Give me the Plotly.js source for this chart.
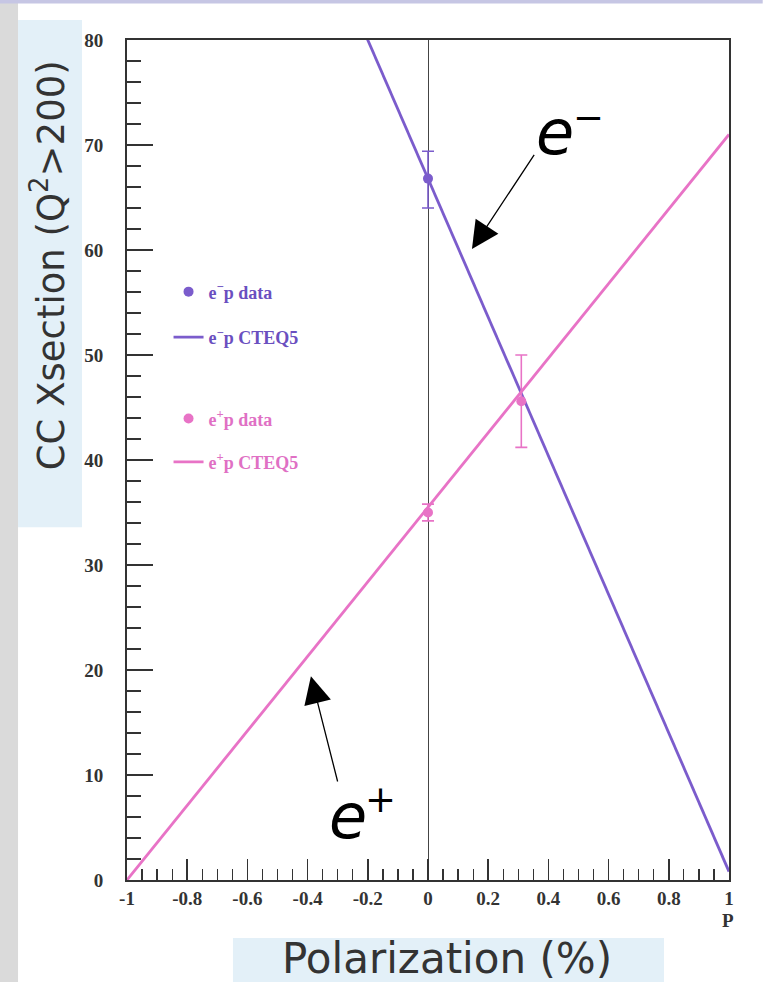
<!DOCTYPE html>
<html>
<head>
<meta charset="utf-8">
<script src="https://cdn.plot.ly/plotly-3.0.1.min.js"></script>
<style>
  html, body { margin: 0; padding: 0; background: #ffffff; }
  #chart { width: 763px; height: 982px; }
</style>
</head>
<body>
<div id="chart"></div>
<script>
// Beam polarization P and charged-current cross sections (Q^2 > 200)
const polEndpoints = [-1, 1];
const eMinusCTEQ5 = [132.8, 0.8];
const ePlusCTEQ5 = [0, 71.0];

const eMinusDataP = [0];
const eMinusDataXS = [66.8];
const eMinusDataErrUp = [2.6];
const eMinusDataErrDn = [2.8];

const ePlusDataP = [0, 0.31];
const ePlusDataXS = [35.0, 45.6];
const ePlusDataErr = [0.8, 4.4];

const xTickVals = [-1, -0.8, -0.6, -0.4, -0.2, 0, 0.2, 0.4, 0.6, 0.8, 1];
const xTickText = ['-1', '-0.8', '-0.6', '-0.4', '-0.2', '0', '0.2', '0.4', '0.6', '0.8', '1'];

const PURPLE = '#7b5ccc';
const PINK = '#e873c6';
const INK = '#333333';
const SERIF = 'Liberation Serif, Times New Roman, serif';
const SANS = 'DejaVu Sans, sans-serif';
const serifBold = { family: SERIF, size: 19, color: INK, weight: 'bold' };

const traces = [
  {
    name: 'e<sup>\u2212</sup>p data',
    x: eMinusDataP, y: eMinusDataXS,
    mode: 'markers', type: 'scatter',
    marker: { color: PURPLE, size: 10, symbol: 'circle' },
    error_y: { type: 'data', symmetric: false, array: eMinusDataErrUp, arrayminus: eMinusDataErrDn,
               color: PURPLE, thickness: 1.6, width: 6 },
    legend: 'legend', legendgroup: 'a'
  },
  {
    name: 'e<sup>\u2212</sup>p CTEQ5',
    x: polEndpoints, y: eMinusCTEQ5,
    mode: 'lines', type: 'scatter',
    line: { color: PURPLE, width: 2.8 },
    legend: 'legend', legendgroup: 'b'
  },
  {
    name: 'e<sup>+</sup>p data',
    x: ePlusDataP, y: ePlusDataXS,
    mode: 'markers', type: 'scatter',
    marker: { color: PINK, size: 10, symbol: 'circle' },
    error_y: { type: 'data', array: ePlusDataErr, color: PINK, thickness: 1.6, width: 6 },
    legend: 'legend2', legendgroup: 'c'
  },
  {
    name: 'e<sup>+</sup>p CTEQ5',
    x: polEndpoints, y: ePlusCTEQ5,
    mode: 'lines', type: 'scatter',
    line: { color: PINK, width: 2.8 },
    legend: 'legend2', legendgroup: 'd'
  }
];

// plot area spans 127..729 px horizontally and 40..880 px vertically
const layout = {
  width: 763, height: 982,
  margin: { l: 127, r: 34, t: 40, b: 102 },
  paper_bgcolor: '#ffffff',
  plot_bgcolor: '#ffffff',
  showlegend: true,
  xaxis: {
    range: [-1, 1],
    tickmode: 'array', tickvals: xTickVals, ticktext: xTickText,
    ticks: 'inside', ticklen: 21, tickwidth: 1.6, tickcolor: INK,
    minor: { tickmode: 'linear', tick0: -1, dtick: 0.05, ticks: 'inside', ticklen: 11, tickwidth: 1.3, tickcolor: INK },
    showline: true, linecolor: INK, linewidth: 2, mirror: true,
    showgrid: false,
    zeroline: true, zerolinecolor: '#444444', zerolinewidth: 1,
    tickfont: serifBold,
    ticklabelstandoff: 0,
    fixedrange: true
  },
  yaxis: {
    range: [0, 80],
    tickmode: 'linear', tick0: 0, dtick: 10,
    ticks: 'inside', ticklen: 26, tickwidth: 1.6, tickcolor: INK,
    minor: { tickmode: 'linear', tick0: 0, dtick: 2, ticks: 'inside', ticklen: 14, tickwidth: 1.3, tickcolor: INK },
    showline: true, linecolor: INK, linewidth: 2, mirror: true,
    showgrid: false, zeroline: false,
    tickfont: serifBold,
    ticklabelstandoff: 18,
    fixedrange: true
  },
  legend: {
    x: 0.069, y: 0.7221, xanchor: 'left', yanchor: 'top',
    bgcolor: 'rgba(0,0,0,0)', borderwidth: 0,
    tracegroupgap: 19,
    font: { family: SERIF, size: 18, color: '#6a4fc0', weight: 'bold' }
  },
  legend2: {
    x: 0.069, y: 0.571, xanchor: 'left', yanchor: 'top',
    bgcolor: 'rgba(0,0,0,0)', borderwidth: 0,
    tracegroupgap: 17,
    font: { family: SERIF, size: 18, color: '#e070c4', weight: 'bold' }
  },
  shapes: [
    // grey strip on the left edge and thin band on top
    { type: 'rect', xref: 'paper', yref: 'paper', x0: -0.211, x1: -0.181, y0: -0.1214, y1: 1.0476,
      fillcolor: '#dadada', line: { width: 0 }, layer: 'below' },
    { type: 'rect', xref: 'paper', yref: 'paper', x0: -0.211, x1: 1.056, y0: 1.0436, y1: 1.0476,
      fillcolor: '#c6c6e4', line: { width: 0 }, layer: 'below' },
    // pale blue panels behind the axis titles
    { type: 'rect', xref: 'paper', yref: 'paper', x0: -0.181, x1: -0.0748, y0: 0.420, y1: 1.0238,
      fillcolor: '#e3f0f8', line: { width: 0 }, layer: 'below' },
    { type: 'rect', xref: 'paper', yref: 'paper', x0: 0.176, x1: 0.892, y0: -0.1214, y1: -0.069,
      fillcolor: '#e3f0f8', line: { width: 0 }, layer: 'below' }
  ],
  annotations: [
    { xref: 'paper', yref: 'paper', x: -0.131, y: 0.732, xanchor: 'center', yanchor: 'middle',
      text: 'CC Xsection (Q<sup>2</sup>&gt;200)', textangle: -90, showarrow: false,
      font: { family: SANS, size: 37, color: INK } },
    { xref: 'paper', yref: 'paper', x: 0.5316, y: -0.0929, xanchor: 'center', yanchor: 'middle',
      text: 'Polarization (%)', showarrow: false,
      font: { family: SANS, size: 42, color: INK } },
    { xref: 'paper', yref: 'paper', x: 0.998, y: -0.048, xanchor: 'center', yanchor: 'middle',
      text: 'P', showarrow: false,
      font: { family: SERIF, size: 19, color: INK, weight: 'bold' } },
    // particle labels with pointer arrows
    { xref: 'paper', yref: 'paper', x: 0.711, y: 0.8893, xanchor: 'center', yanchor: 'middle',
      text: '<i>e</i>', showarrow: false,
      font: { family: SANS, size: 62, color: '#000000' } },
    { xref: 'paper', yref: 'paper', x: 0.7674, y: 0.9083, xanchor: 'center', yanchor: 'middle',
      text: '\u2212', showarrow: false,
      font: { family: SANS, size: 37, color: '#000000' } },
    { xref: 'paper', yref: 'paper', x: 0.3679, y: 0.0756, xanchor: 'center', yanchor: 'middle',
      text: '<i>e</i>', showarrow: false,
      font: { family: SANS, size: 62, color: '#000000' } },
    { xref: 'paper', yref: 'paper', x: 0.4219, y: 0.0964, xanchor: 'center', yanchor: 'middle',
      text: '+', showarrow: false,
      font: { family: SANS, size: 37, color: '#000000' } },
    { xref: 'x', yref: 'y', axref: 'x', ayref: 'y', x: 0.146, y: 60.1, ax: 0.356, ay: 69.2,
      text: '', showarrow: true, arrowhead: 2, arrowsize: 4.2, arrowwidth: 1.3, arrowcolor: '#000000', standoff: 0 },
    { xref: 'x', yref: 'y', axref: 'x', ayref: 'y', x: -0.389, y: 19.4, ax: -0.299, ay: 9.24,
      text: '', showarrow: true, arrowhead: 2, arrowsize: 4.2, arrowwidth: 1.3, arrowcolor: '#000000', standoff: 0 }
  ]
};

Plotly.newPlot('chart', traces, layout, { displayModeBar: false, staticPlot: true });
</script>
</body>
</html>
